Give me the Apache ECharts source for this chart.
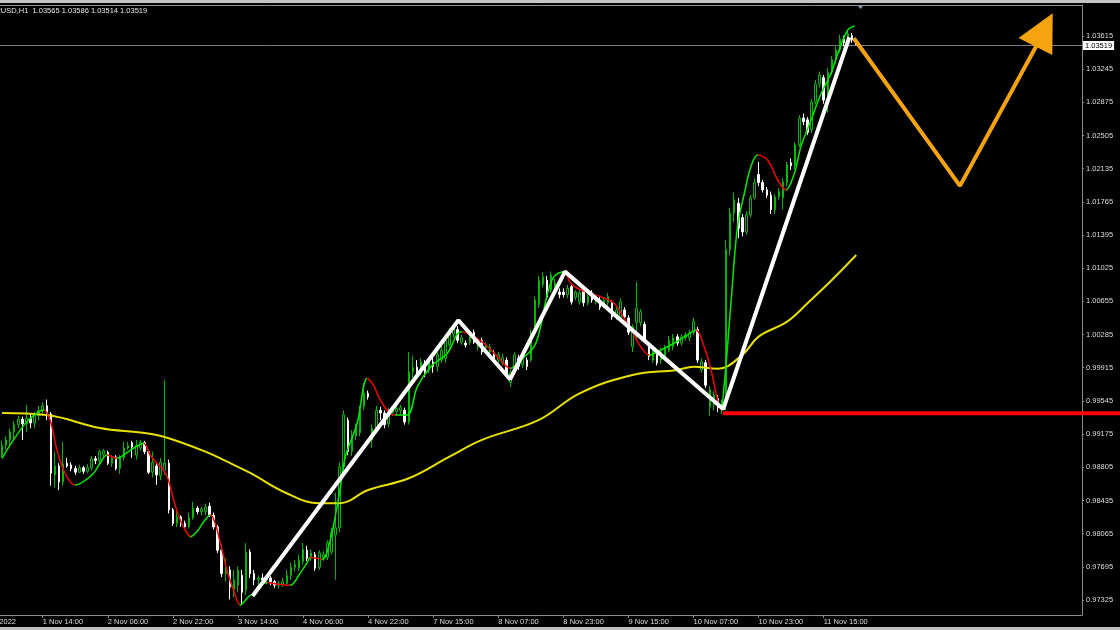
<!DOCTYPE html>
<html>
<head>
<meta charset="utf-8">
<script src="https://cdn.jsdelivr.net/npm/echarts@6/dist/echarts.min.js"></script>
<style>html,body{margin:0;padding:0;background:#000;}#c{width:1120px;height:630px;}</style>
</head>
<body>
<div id="c"></div>
<script>
const symbolName = 'EURUSD,H1';
const firstBarUTC = [2022, 10, 1, 4]; // 1 Nov 2022 04:00 (broker time)
const monthNames = ['Jan','Feb','Mar','Apr','May','Jun','Jul','Aug','Sep','Oct','Nov','Dec'];

const opens = [
0.9894,0.9905,0.9911,0.9920,0.9928,0.9934,0.9929,0.9935,0.9930,0.9938,
0.9944,0.9949,0.9940,0.9872,0.9882,0.9864,0.9885,0.9883,0.9879,0.9875,
0.9880,0.9876,0.9880,0.9890,0.9888,0.9895,0.9897,0.9885,0.9892,0.9879,
0.9891,0.9902,0.9908,0.9894,0.9902,0.9908,0.9898,0.9875,0.9882,0.9871,
0.9877,0.9885,0.9833,0.9818,0.9825,0.9818,0.9815,0.9824,0.9835,0.9831,
0.9831,0.9837,0.9827,0.9814,0.9788,0.9762,0.9766,0.9744,0.9749,0.9760,
0.9744,0.9786,0.9762,0.9755,0.9757,0.9755,0.9757,0.9753,0.9749,0.9750,
0.9751,0.9760,0.9769,0.9768,0.9775,0.9788,0.9779,0.9783,0.9769,0.9780,
0.9780,0.9786,0.9805,0.9813,0.9881,0.9933,0.9898,0.9915,0.9919,0.9948,
0.9963,0.9911,0.9924,0.9944,0.9941,0.9929,0.9941,0.9943,0.9944,0.9944,
0.9931,0.9987,0.9992,0.9987,0.9998,0.9989,0.9998,0.9993,1.0000,1.0002,
1.0017,1.0029,1.0034,1.0020,1.0019,1.0020,1.0031,1.0015,1.0022,1.0014,
1.0009,1.0008,1.0000,0.9997,1.0000,0.9975,0.9993,1.0002,0.9995,1.0000,
1.0000,1.0039,1.0062,1.0084,1.0089,1.0078,1.0078,1.0076,1.0076,1.0073,
1.0082,1.0070,1.0065,1.0078,1.0064,1.0075,1.0065,1.0067,1.0062,1.0064,
1.0064,1.0048,1.0048,1.0056,1.0047,1.0015,1.0042,1.0042,1.0040,1.0017,
1.0000,1.0006,1.0000,1.0004,1.0011,1.0015,1.0026,1.0019,1.0025,1.0025,
1.0031,1.0034,0.9989,0.9997,0.9948,0.9950,0.9957,0.9947,0.9950,1.0123,
1.0164,1.0175,1.0159,1.0143,1.0162,1.0181,1.0207,1.0198,1.0190,1.0184,
1.0168,1.0182,1.0181,1.0198,1.0220,1.0217,1.0240,1.0270,1.0268,1.0257,
1.0288,1.0308,1.0315,1.0290,1.0321,1.0335,1.0346,1.0358,1.0355,1.0362,
1.03565];

const closes = [
0.9905,0.9911,0.9920,0.9928,0.9934,0.9929,0.9935,0.9930,0.9938,0.9944,
0.9949,0.9940,0.9874,0.9882,0.9864,0.9884,0.9882,0.9879,0.9875,0.9880,
0.9876,0.9880,0.9890,0.9888,0.9898,0.9899,0.9885,0.9892,0.9879,0.9891,
0.9902,0.9905,0.9903,0.9905,0.9908,0.9898,0.9875,0.9886,0.9872,0.9886,
0.9885,0.9833,0.9818,0.9825,0.9817,0.9814,0.9824,0.9835,0.9831,0.9834,
0.9836,0.9827,0.9814,0.9788,0.9762,0.9768,0.9747,0.9755,0.9766,0.9741,
0.9786,0.9762,0.9755,0.9757,0.9755,0.9757,0.9753,0.9749,0.9751,0.9753,
0.9760,0.9769,0.9772,0.9777,0.9789,0.9779,0.9785,0.9768,0.9785,0.9783,
0.9796,0.9808,0.9813,0.9881,0.9939,0.9898,0.9915,0.9925,0.9944,0.9963,
0.9959,0.9924,0.9944,0.9941,0.9928,0.9941,0.9944,0.9946,0.9947,0.9931,
0.9987,0.9992,0.9987,0.9998,0.9987,0.9998,0.9993,1.0006,1.0011,1.0022,
1.0031,1.0036,1.0022,1.0025,1.0017,1.0026,1.0020,1.0020,1.0009,1.0017,
1.0015,1.0000,1.0006,1.0003,0.9984,0.9986,1.0006,0.9993,1.0002,0.9993,
1.0030,1.0067,1.0089,1.0093,1.0070,1.0095,1.0086,1.0073,1.0073,1.0080,
1.0065,1.0076,1.0075,1.0064,1.0071,1.0067,1.0071,1.0059,1.0067,1.0071,
1.0048,1.0056,1.0065,1.0048,1.0031,1.0037,1.0058,1.0054,1.0023,1.0004,
1.0011,0.9997,1.0009,1.0014,1.0022,1.0025,1.0019,1.0026,1.0028,1.0030,
1.0043,1.0000,0.9998,0.9972,0.9967,0.9961,0.9947,0.9950,1.0123,1.0164,
1.0179,1.0147,1.0143,1.0162,1.0181,1.0198,1.0198,1.0190,1.0184,1.0168,
1.0182,1.0188,1.0199,1.0218,1.0217,1.0240,1.0270,1.0266,1.0254,1.0288,
1.0308,1.0318,1.0290,1.0321,1.0335,1.0346,1.0358,1.0354,1.0364,1.0357,
1.03519];

const lows = [
0.9891,0.9900,0.9906,0.9911,0.9924,0.9911,0.9920,0.9924,0.9924,0.9933,
0.9938,0.9933,0.9860,0.9858,0.9855,0.9860,0.9880,0.9876,0.9872,0.9874,
0.9873,0.9874,0.9877,0.9884,0.9883,0.9891,0.9883,0.9881,0.9877,0.9873,
0.9888,0.9900,0.9891,0.9889,0.9899,0.9895,0.9873,0.9869,0.9861,0.9866,
0.9872,0.9829,0.9815,0.9814,0.9814,0.9811,0.9812,0.9822,0.9828,0.9827,
0.9827,0.9825,0.9811,0.9785,0.9758,0.9753,0.9733,0.9736,0.9741,0.9728,
0.9738,0.9757,0.9749,0.9744,0.9750,0.9750,0.9749,0.9746,0.9745,0.9747,
0.9749,0.9755,0.9764,0.9765,0.9772,0.9776,0.9776,0.9765,0.9766,0.9776,
0.9777,0.9783,0.9755,0.9808,0.9877,0.9894,0.9893,0.9911,0.9915,0.9944,
0.9956,0.9902,0.9921,0.9933,0.9924,0.9925,0.9938,0.9940,0.9940,0.9928,
0.9928,0.9980,0.9980,0.9983,0.9981,0.9985,0.9986,0.9987,0.9997,0.9997,
1.0014,1.0025,1.0019,1.0017,1.0014,1.0017,1.0018,1.0011,1.0006,1.0010,
1.0006,0.9997,0.9997,0.9994,0.9980,0.9970,0.9989,0.9989,0.9991,0.9989,
0.9998,1.0036,1.0058,1.0081,1.0067,1.0075,1.0075,1.0069,1.0070,1.0069,
1.0062,1.0067,1.0062,1.0060,1.0061,1.0064,1.0062,1.0056,1.0058,1.0060,
1.0045,1.0045,1.0045,1.0045,1.0028,1.0009,1.0023,1.0038,1.0020,1.0000,
0.9997,0.9994,0.9996,1.0000,1.0009,1.0011,1.0016,1.0016,1.0022,1.0021,
1.0028,0.9997,0.9986,0.9969,0.9938,0.9944,0.9942,0.9940,0.9944,1.0117,
1.0154,1.0136,1.0138,1.0140,1.0159,1.0179,1.0194,1.0187,1.0181,1.0163,
1.0163,1.0179,1.0168,1.0194,1.0212,1.0213,1.0237,1.0262,1.0251,1.0253,
1.0285,1.0304,1.0286,1.0276,1.0318,1.0331,1.0343,1.0350,1.0351,1.0354,
1.03514];

const highs = [
0.9910,0.9915,0.9924,0.9932,0.9938,0.9937,0.9950,0.9940,0.9942,0.9949,
0.9953,0.9956,0.9942,0.9898,0.9885,0.9909,0.9891,0.9886,0.9882,0.9883,
0.9882,0.9884,0.9893,0.9893,0.9900,0.9901,0.9899,0.9894,0.9894,0.9894,
0.9909,0.9909,0.9910,0.9911,0.9911,0.9910,0.9900,0.9898,0.9886,0.9891,
0.9978,0.9889,0.9835,0.9835,0.9827,0.9821,0.9830,0.9842,0.9837,0.9836,
0.9840,0.9841,0.9830,0.9816,0.9794,0.9779,0.9770,0.9766,0.9770,0.9766,
0.9796,0.9789,0.9766,0.9760,0.9762,0.9760,0.9759,0.9755,0.9754,0.9757,
0.9766,0.9774,0.9777,0.9783,0.9796,0.9793,0.9789,0.9786,0.9788,0.9787,
0.9799,0.9813,0.9852,0.9886,0.9944,0.9936,0.9922,0.9929,0.9949,0.9969,
0.9966,0.9928,0.9949,0.9948,0.9944,0.9947,0.9948,0.9949,0.9950,0.9947,
1.0009,1.0005,1.0000,1.0002,1.0000,1.0002,1.0003,1.0011,1.0017,1.0027,
1.0036,1.0039,1.0038,1.0028,1.0022,1.0029,1.0034,1.0024,1.0025,1.0020,
1.0018,1.0011,1.0009,1.0007,1.0003,0.9989,1.0009,1.0006,1.0006,1.0003,
1.0034,1.0071,1.0094,1.0098,1.0094,1.0099,1.0091,1.0080,1.0080,1.0084,
1.0085,1.0078,1.0078,1.0082,1.0074,1.0078,1.0074,1.0071,1.0069,1.0075,
1.0067,1.0059,1.0069,1.0059,1.0050,1.0040,1.0087,1.0057,1.0043,1.0020,
1.0015,1.0009,1.0014,1.0017,1.0027,1.0029,1.0029,1.0029,1.0031,1.0034,
1.0047,1.0037,1.0002,1.0000,0.9971,0.9965,0.9961,0.9956,1.0134,1.0170,
1.0187,1.0181,1.0163,1.0166,1.0184,1.0203,1.0221,1.0201,1.0193,1.0188,
1.0185,1.0192,1.0203,1.0221,1.0225,1.0243,1.0273,1.0275,1.0271,1.0291,
1.0312,1.0322,1.0318,1.0326,1.0339,1.0350,1.0363,1.0362,1.0366,1.0365,
1.03586];

const yTicks = [0.97325,0.97695,0.98065,0.98435,0.98805,0.99175,0.99545,0.99915,1.00285,
  1.00655,1.01025,1.01395,1.01765,1.02135,1.02505,1.02875,1.03245,1.03615];

// moving average (yellow), [bar index, price]
const maPoints = [[0,0.99411],[11,0.99388],[24,0.99244],[35,0.99188],[40,0.99143],[50,0.98980],
  [56,0.98853],[61,0.98742],[70,0.98515],[78,0.98404],[83,0.98404],[90,0.98552],[100,0.98682],
  [110,0.98923],[118,0.99110],[132,0.99333],[142,0.99630],[155,0.99835],[166,0.99890],
  [170,0.99927],[176,0.99905],[182,1.00058],[186,1.00262],[193,1.00429],[198,1.00634],
  [204,1.00894],[210,1.01173]];

// smoothed trend indicator (green rising / red falling), [bar index, price]
const trendPoints = [[0,0.98905],[2.8,0.99110],[6.1,0.99314],[8.5,0.99407],[10.2,0.99444],
  [11.8,0.99333],[13.5,0.98998],[15.1,0.98775],[16.7,0.98645],[18.0,0.98608],[20.0,0.98645],
  [22.5,0.98738],[24.1,0.98850],[25.8,0.98942],[28.2,0.98905],[29.9,0.98942],[32.3,0.99017],
  [34.8,0.99073],[36.4,0.98942],[38.1,0.98850],[39.7,0.98775],[40.9,0.98663],[42.2,0.98440],
  [43.8,0.98217],[45.5,0.98069],[46.3,0.98031],[47.9,0.98087],[49.6,0.98198],[51.2,0.98273],
  [52.4,0.98180],[53.7,0.97957],[55.3,0.97660],[56.9,0.97437],[58.6,0.97269],[60.6,0.97362],
  [61.9,0.97399],[63.1,0.97480],[65.2,0.97520],[67.9,0.97500],[70.9,0.97490],[73.0,0.97604],
  [75.0,0.97740],[75.8,0.97800],[78.7,0.97780],[80.7,0.97994],[82.2,0.98329],[83.2,0.98589],
  [84.4,0.98923],[87.3,0.99296],[89.8,0.99798],[91.3,0.99723],[93.0,0.99556],[96.3,0.99388],
  [99.6,0.99388],[102.1,0.99704],[105.4,0.99927],[109.5,1.00077],[112.7,1.00317],[114.5,1.00300],
  [118.5,1.00188],[121.8,1.00039],[125.0,0.99909],[127.5,1.00002],[130.8,1.00150],[132.4,1.00373],
  [134.1,1.00746],[135.7,1.00931],[138.2,1.00987],[139.8,1.00857],[142.3,1.00782],[147.2,1.00708],
  [150.5,1.00634],[152.9,1.00467],[155.4,1.00281],[157.0,1.00150],[159.1,1.00058],[162.0,1.00113],
  [165.2,1.00188],[168.5,1.00281],[170.6,1.00336],[172.6,1.00150],[174.3,0.99890],[175.9,0.99556],
  [176.7,0.99444],[177.5,0.99704],[179.2,1.00638],[180.8,1.01489],[182.5,1.01861],[184.1,1.02158],
  [185.8,1.02288],[188.2,1.02232],[190.7,1.02009],[192.7,1.01898],[194.8,1.02084],[196.4,1.02381],
  [198.9,1.02679],[201.4,1.02976],[203.8,1.03199],[205.5,1.03422],[207.9,1.03682],[209.6,1.03727]];
const trendDownRanges = [[10.2,18.0],[25.8,28.2],[34.8,46.3],[51.2,58.6],[65.2,70.9],[75.8,78.7],
  [89.8,96.5],[113,125],[138.2,159.1],[170.6,176.7],[185.8,192.7]];

// hand-drawn analysis lines, [bar index, price]
const zigzag = [[61.6,0.97370],[112.2,1.00445],[124.9,0.99787],[138.4,1.00987],[177.3,0.99455],[208.3,1.03601]];
const projection = [[209.4,1.03590],[235.5,1.01943],[254.4,1.03515]];
const arrowHead = [[258.3,1.03869],[249.9,1.03593],[258.2,1.03404]];
const supportLevel = 0.99407;
const supportStart = 177.2;

// ---- build ----
const barCount = opens.length;
const catCount = 266;
const categories = [];
let t = Date.UTC(...firstBarUTC);
while (categories.length < barCount) {
  const d = new Date(t);
  const dow = d.getUTCDay(), h = d.getUTCHours();
  const skip = dow === 6 || dow === 0 || (dow === 5 && h === 23);
  if (!skip) categories.push(d.getUTCDate() + ' ' + monthNames[d.getUTCMonth()] + ' ' + String(h).padStart(2,'0') + ':00');
  t += 3600000;
}
for (let k = categories.length; k < catCount; k++) categories.push('f' + k);
const labelFirst = 10, labelStep = 16;
const labelAt = (idx) => idx >= labelFirst && idx < barCount && (idx - labelFirst) % labelStep === 0;

const candles = opens.map((o, i) => [o, closes[i], lows[i], highs[i]]);
const last = barCount - 1;
const lastClose = closes[last];

const GREEN = '#00e800', RED = '#f00000';
const pieces = [];
let prev = -10;
trendDownRanges.forEach(([a, b]) => {
  pieces.push({gte: prev, lt: a, color: GREEN});
  pieces.push({gte: a, lt: b, color: RED});
  prev = b;
});
pieces.push({gte: prev, lte: 400, color: GREEN});

const FONT = 'Liberation Sans';
const FS = 7.5;
const AXIS_GRAY = '#8a8a8a';
const chart = echarts.init(document.getElementById('c'), null, {renderer: 'canvas'});
chart.setOption({
  backgroundColor: '#000',
  animation: false,
  grid: {left: 0, right: 38, top: 5, bottom: 15, show: false, containLabel: false, outerBoundsMode: 'none'},
  xAxis: [{
    type: 'category', data: categories, boundaryGap: true,
    axisLine: {show: true, onZero: false, lineStyle: {color: AXIS_GRAY, width: 1}},
    axisTick: {show: true, alignWithLabel: true, interval: labelAt, length: 3, lineStyle: {color: AXIS_GRAY}},
    axisLabel: {show: true, interval: labelAt, align: 'left', margin: 3, color: '#dcdcdc', fontSize: FS,
                fontFamily: FONT, hideOverlap: false},
    splitLine: {show: false}
  }, {
    type: 'value', min: -0.5, max: catCount - 0.5, show: false
  }, {
    type: 'value', position: 'top', min: -0.5, max: catCount - 0.5,
    axisLine: {show: true, onZero: false, lineStyle: {color: AXIS_GRAY, width: 1}},
    axisTick: {show: false}, axisLabel: {show: false}, splitLine: {show: false}
  }],
  yAxis: {
    type: 'value', position: 'right', min: 0.971573, max: 1.039608,
    axisLine: {show: true, onZero: false, lineStyle: {color: AXIS_GRAY, width: 1}},
    axisTick: {show: true, length: 2, customValues: yTicks, lineStyle: {color: AXIS_GRAY}},
    axisLabel: {customValues: yTicks, formatter: v => v.toFixed(5), color: '#dcdcdc', fontSize: FS,
                fontFamily: FONT, margin: 4},
    splitLine: {show: false}
  },
  visualMap: {type: 'piecewise', show: false, dimension: 0, seriesIndex: 2, pieces: pieces},
  series: [
    {
      type: 'candlestick', data: candles, barWidth: 2,
      itemStyle: {color: '#000000', color0: '#ffffff', borderColor: '#00b800', borderColor0: '#ffffff', borderWidth: 1},
      z: 2
    },
    {type: 'line', xAxisIndex: 1, data: maPoints, smooth: 0.4, showSymbol: false,
     lineStyle: {color: '#e8e000', width: 2}, z: 3},
    {type: 'line', xAxisIndex: 1, data: trendPoints, smooth: 0.35, showSymbol: false,
     lineStyle: {width: 1.5}, z: 4},
    {type: 'line', xAxisIndex: 1, data: zigzag, showSymbol: false,
     lineStyle: {color: '#ffffff', width: 4}, z: 5},
    {type: 'custom', xAxisIndex: 1, data: [[supportStart, supportLevel]], clip: false,
     renderItem: (params, api) => {
       const p = api.coord([api.value(0), api.value(1)]);
       return {type: 'line', shape: {x1: p[0], y1: p[1], x2: api.getWidth(), y2: p[1]},
               style: {stroke: '#ff0000', lineWidth: 4}};
     }, z: 6},
    {type: 'line', xAxisIndex: 1, data: projection, showSymbol: false,
     lineStyle: {color: '#f5a30f', width: 4}, z: 7},
    {type: 'custom', xAxisIndex: 1, data: [arrowHead.flat()], encode: {x: [0, 2, 4], y: [1, 3, 5]}, clip: false,
     renderItem: (params, api) => {
       const pts = [0, 1, 2].map(k => api.coord([api.value(2 * k), api.value(2 * k + 1)]));
       return {type: 'polygon', shape: {points: pts}, style: {fill: '#f5a30f'}};
     }, z: 8},
    // current bid line with its price box on the axis
    {type: 'custom', xAxisIndex: 1, data: [[last, lastClose]], clip: false,
     renderItem: (params, api) => {
       const cs = params.coordSys;
       const y = Math.round(api.coord([api.value(0), api.value(1)])[1]) + 0.5;
       return {type: 'group', children: [
         {type: 'line', shape: {x1: cs.x, y1: y, x2: cs.x + cs.width, y2: y},
          style: {stroke: '#7c7c7c', lineWidth: 1}, z2: 0},
         {type: 'text', x: cs.x + cs.width + 1, y: y,
          style: {text: api.value(1).toFixed(5), fill: '#000000', backgroundColor: '#ffffff',
                  padding: [1, 2, 0, 2], font: FS + 'px "' + FONT + '"', verticalAlign: 'middle'}, z2: 10}
       ]};
     }, z: 1}
  ],
  graphic: [
    {type: 'rect', shape: {x: 0, y: 0, width: 1120, height: 3}, style: {fill: '#c4c4c4'}, silent: true},
    {type: 'rect', shape: {x: 0, y: 627, width: 1120, height: 3}, style: {fill: '#bdbdbd'}, silent: true},
    {type: 'text', x: -15, y: 10.5, silent: true,
     style: {text: symbolName + '  ' + [opens[last], highs[last], lows[last], closes[last]].map(v => v.toFixed(5)).join(' '),
             fill: '#e6e6e6', font: FS + 'px "' + FONT + '"', verticalAlign: 'middle'}},
    {type: 'text', x: 16, y: 622, silent: true,
     style: {text: categories[0].split(' ').slice(0, 2).join(' ') + ' 2022', fill: '#dcdcdc', font: FS + 'px "' + FONT + '"',
             align: 'right', verticalAlign: 'middle'}},
    {type: 'polygon', shape: {points: [[857, 5], [864, 5], [860.5, 9]]}, style: {fill: '#8796ab'}, silent: true}
  ]
});
</script>
</body>
</html>
